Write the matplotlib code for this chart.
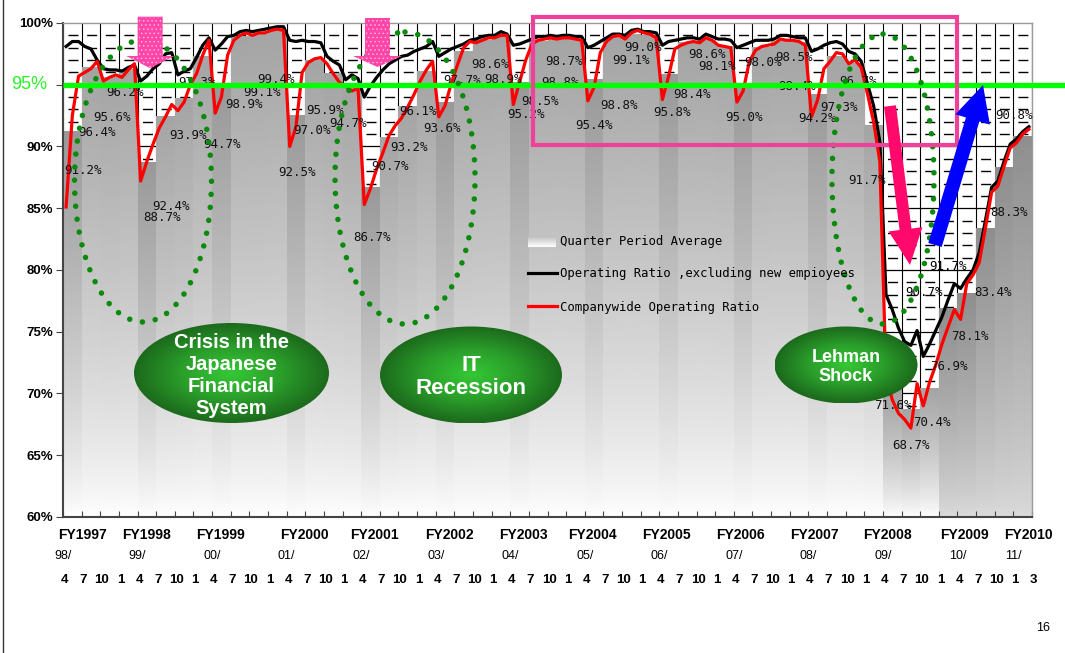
import numpy as np
import matplotlib
matplotlib.use("Agg")
import matplotlib.pyplot as plt
from matplotlib import font_manager
from matplotlib.colors import LinearSegmentedColormap
from matplotlib.patches import Ellipse, Polygon, Rectangle, FancyArrow


def first_font(*names):
    for name in names:
        try:
            font_manager.findfont(font_manager.FontProperties(family=name),
                                  fallback_to_default=False)
            return name
        except ValueError:
            pass
    return "DejaVu Sans"


NARROW = first_font("Liberation Sans Narrow", "Arial Narrow", "Liberation Sans")
SANS = first_font("Liberation Sans", "Arial")
MONO = "DejaVu Sans Mono"
plt.rcParams["hatch.linewidth"] = 0.5

# ---------------- data ----------------
fiscal_years = ["FY1997", "FY1998", "FY1999", "FY2000", "FY2001", "FY2002", "FY2003",
                "FY2004", "FY2005", "FY2006", "FY2007", "FY2008", "FY2009", "FY2010"]
year_marks = ["98/", "99/", "00/", "01/", "02/", "03/", "04/",
              "05/", "06/", "07/", "08/", "09/", "10/", "11/"]
quarter_months = ["4", "7", "10", "1"] * 13 + ["3"]

# quarterly average of the companywide ratio (Apr-Jun 1998 ... Jan-Mar 2011)
quarter_avg = [
    91.2, 96.4, 95.6, 96.2,
    88.7, 92.4, 93.9, 97.3,
    94.7, 98.9, 99.1, 99.4,
    92.5, 97.0, 95.9, 94.7,
    86.7, 90.7, 93.2, 96.1,
    93.6, 97.7, 98.6, 98.9,
    95.2, 98.5, 98.8, 98.7,
    95.4, 98.8, 99.1, 99.0,
    95.8, 98.4, 98.6, 98.1,
    95.0, 98.0, 98.5, 98.4,
    94.2, 97.3, 96.7, 91.7,
    71.6, 68.7, 70.4, 76.9,
    78.1, 83.4, 88.3, 90.8,
]

# monthly companywide operating ratio, Apr 1998 - Mar 2011
ratio_all = [
    85.1, 92.5, 95.7, 96.0, 96.3, 96.9, 95.3, 95.6, 95.8, 95.6, 96.2, 96.7,
    87.2, 88.8, 90.2, 91.5, 92.4, 93.4, 92.9, 93.6, 95.0, 95.9, 97.4, 98.6,
    92.7, 94.0, 97.4, 98.6, 99.0, 99.2, 99.0, 99.2, 99.2, 99.4, 99.5, 99.4,
    90.0, 91.6, 96.0, 96.8, 97.1, 97.2, 96.7, 95.9, 95.2, 94.9, 94.5, 94.7,
    85.3, 86.6, 88.2, 89.5, 90.9, 91.7, 92.3, 93.2, 94.2, 95.3, 96.2, 96.9,
    92.4, 93.3, 95.1, 96.6, 98.0, 98.5, 98.4, 98.6, 98.8, 98.8, 99.0, 99.0,
    93.4, 95.2, 97.0, 98.3, 98.6, 98.7, 98.8, 98.7, 98.8, 98.8, 98.7, 98.6,
    93.7, 94.8, 97.6, 98.5, 98.9, 99.0, 98.7, 99.2, 99.4, 99.2, 99.1, 98.8,
    93.8, 95.7, 97.9, 98.2, 98.4, 98.5, 98.4, 98.8, 98.6, 98.2, 98.1, 98.0,
    93.6, 94.5, 96.9, 97.8, 98.1, 98.2, 98.3, 98.7, 98.6, 98.6, 98.5, 98.2,
    92.4, 93.8, 96.3, 96.9, 97.6, 97.5, 96.7, 97.0, 96.4, 94.3, 92.0, 88.8,
    71.5, 69.5, 68.4, 67.9, 67.2, 70.8, 69.0, 70.9, 72.3, 74.0, 75.4, 76.8,
    76.0, 78.9, 79.6, 80.6, 83.4, 86.3, 86.8, 88.4, 89.9, 90.3, 91.0, 91.4,
]

# monthly operating ratio excluding new employees
ratio_excl_new = [
    98.1, 98.5, 98.5, 98.1, 97.9, 97.0, 96.3, 96.2, 96.2, 96.1, 96.4, 96.6,
    95.3, 95.7, 96.3, 96.7, 97.5, 97.6, 95.8, 96.1, 96.3, 97.2, 98.2, 98.8,
    97.8, 98.3, 98.9, 99.0, 99.3, 99.4, 99.3, 99.4, 99.5, 99.6, 99.7, 99.7,
    98.6, 98.5, 98.6, 98.5, 98.5, 98.4, 97.3, 96.9, 96.6, 95.4, 95.8, 95.5,
    94.0, 94.9, 95.6, 96.2, 96.7, 97.0, 97.3, 97.4, 97.7, 97.9, 98.1, 98.5,
    97.3, 97.6, 97.9, 98.1, 98.3, 98.6, 98.7, 98.9, 99.0, 99.0, 99.3, 99.1,
    98.2, 98.3, 98.5, 98.7, 98.9, 98.9, 99.0, 98.9, 99.0, 99.0, 98.9, 98.9,
    98.0, 98.2, 98.5, 98.8, 99.1, 99.1, 99.0, 99.4, 99.5, 99.3, 99.3, 99.2,
    98.2, 98.5, 98.6, 98.7, 98.8, 98.8, 98.7, 99.1, 98.9, 98.7, 98.7, 98.6,
    98.0, 98.2, 98.4, 98.6, 98.6, 98.6, 98.7, 99.0, 99.0, 98.9, 98.8, 98.8,
    97.7, 97.9, 98.2, 98.4, 98.5, 98.3, 97.7, 97.5, 96.9, 95.1, 93.3, 90.4,
    78.0, 76.8, 75.3, 74.2, 73.9, 75.1, 73.0, 74.0, 75.1, 76.2, 77.6, 78.9,
    78.5, 79.3, 80.0, 81.4, 84.0, 86.7, 87.2, 88.8, 90.2, 90.6, 91.2, 91.6,
]

target = 95.0
crisis_names = ["Crisis in the\nJapanese\nFinancial\nSystem", "IT\nRecession", "Lehman\nShock"]
stray_labels = ["90.7%", "91.7%"]

# ---------------- layout helpers ----------------
# where each quarter label sits relative to the top of its bar (pixels right, pixels down)
label_offsets = [
    (10.7, 39.3), (6.1, 65.5), (2.4, 39.7), (-3.2, 22.1),
    (15.2, 55.4), (5.5, 90.1), (3.9, 36.7), (-5.7, 25.7),
    (0.7, 56.5), (4.0, 68.4), (3.4, 57.9), (-1.2, 48.6),
    (1.1, 56.4), (-2.5, 70.0), (-8.1, 36.4), (-3.7, 35.5),
    (1.6, 50.7), (1.0, 29.1), (1.4, 41.0), (-8.3, 40.8),
    (-2.9, 26.0), (-1.5, 28.6), (7.9, 24.7), (2.2, 43.4),
    (6.6, 32.7), (2.0, 59.5), (3.3, 44.2), (-11.3, 22.9),
    (0.1, 45.2), (6.5, 67.2), (-0.2, 25.9), (-6.8, 12.6),
    (3.6, 38.1), (4.9, 52.2), (1.3, 14.7), (-7.3, 20.5),
    (1.1, 33.2), (1.4, 15.3), (13.8, 15.5), (-1.8, 44.2),
    (-0.5, 23.4), (2.9, 50.7), (3.3, 18.2), (-6.3, 54.5),
    (1.0, 31.3), (0.4, 36.4), (2.8, 34.4), (1.1, 58.7),
    (3.5, 43.5), (7.9, 64.0), (5.3, 45.5), (-8.4, -21.6),
]
fy_pos = [3.2, 13.4, 25.4, 38.9, 50.1, 62.2, 74.1, 85.2, 97.1, 109.0, 120.9, 132.8, 145.2, 155.5]
year_pos = [0, 12, 24, 36, 48, 60, 72, 84, 96, 108, 120, 132, 144, 153]

W, H = 1065, 653
fig = plt.figure(figsize=(W / 100, H / 100), dpi=100)
ax = fig.add_axes([63 / W, 1 - 517 / H, (1032 - 63) / W, (517 - 23) / H])

# grid: quarter columns, 1% dashed rows, solid every 5%
for m in range(0, 157, 3):
    ax.axvline(m, color="black", lw=0.8, zorder=0)
for v in range(61, 100):
    if v % 5 == 0:
        ax.axhline(v, color="black", lw=0.9, zorder=0)
    else:
        ax.axhline(v, color="black", lw=1.0, ls=(9.8, (7.2, 6.21)), zorder=0)

# quarter bars with a vertical grey-to-white fill
grad = np.linspace(0, 1, 200).reshape(-1, 1)
for q, v in enumerate(quarter_avg):
    if q >= 47:
        shade = 0.86 - 0.30 * grad ** 0.75
    else:
        top = 0.60 if q % 4 == 0 else 0.645
        shade = 1 - (1 - top) * grad ** 0.75
    ax.imshow(shade, extent=(3 * q, 3 * q + 3, 60, v), origin="lower", cmap="gray",
              vmin=0, vmax=1, aspect="auto", interpolation="bilinear", zorder=1)

months = np.arange(len(ratio_all)) + 0.5
ax.plot(months, ratio_excl_new, color="black", lw=2.3, zorder=3)
ax.plot(months, ratio_all, color="#ff0000", lw=2.3, zorder=4)

for q, (v, (dx, dy)) in enumerate(zip(quarter_avg, label_offsets)):
    ax.annotate(f"{v:.1f}%", xy=(3 * q + 1.5, v), xytext=(dx, -dy),
                textcoords="offset pixels", ha="center", va="center",
                fontsize=9, family=MONO, color="#111111", zorder=5,
                annotation_clip=False)

# 95% target line running out to the page edge
ax.plot([0, 161.5], [target, target], color="#00ff00", lw=3.8, zorder=6,
        clip_on=False, solid_capstyle="butt")
ax.annotate(f"{target:.0f}%", xy=(0, target), xytext=(-34, 0), textcoords="offset pixels",
            ha="center", va="center", fontsize=13, family=SANS, color="#2bf02b",
            annotation_clip=False)

ax.set_xlim(0, 156)
ax.set_ylim(60, 100)
yt = list(range(60, 101, 5))
ax.set_yticks(yt)
ax.set_yticklabels([f"{t}%" if t != 95 else "" for t in yt], fontsize=9.5,
                   fontweight="bold", family=NARROW)
ax.set_xticks(range(0, 157, 3))
ax.tick_params(axis="y", direction="out", length=5, pad=2, color="#444444")
ax.tick_params(axis="x", direction="in", length=4, labelbottom=False, color="#444444")
for s in ["left", "bottom"]:
    ax.spines[s].set_color("#444444")
    ax.spines[s].set_linewidth(1.5)
for s in ["top", "right"]:
    ax.spines[s].set_color("#999999")
    ax.spines[s].set_linewidth(1.0)

xt = ax.get_xaxis_transform()
for name, p in zip(fiscal_years, fy_pos):
    ax.text(p, -0.0364, name, transform=xt, ha="center", va="center",
            fontsize=10, fontweight="bold", family=SANS)
for name, p in zip(year_marks, year_pos):
    ax.text(p, -0.079, name, transform=xt, ha="center", va="center",
            fontsize=9, family=NARROW)
for k, name in enumerate(quarter_months):
    ax.text(3 * k + 0.25, -0.1275, name, transform=xt, ha="center", va="center",
            fontsize=9.5, fontweight="bold", family=NARROW)

# ---------------- overlay in page pixels ----------------
ov = fig.add_axes([0, 0, 1, 1], zorder=5)
ov.set_axis_off()

ov.plot([3, 3], [0, H], color="#333333", lw=1)
ov.text(1043, 628, "16", fontsize=9, family=SANS, ha="center", va="center")

ov.text(924, 293, stray_labels[0], fontsize=9, family=MONO, ha="center", va="center", zorder=0.5)
ov.text(948, 266, stray_labels[1], fontsize=9, family=MONO, ha="center", va="center", zorder=0.5)

# dotted loops around the three slumps
for cx, cy, w, h in [(143, 181, 137, 282), (405, 178, 140, 292), (883, 179, 102, 290)]:
    ov.add_patch(Ellipse((cx, cy), w, h, fill=False, ec="#0a8a0a", lw=4,
                         ls=(0, (0.001, 2.35)), capstyle="round", zorder=1))


def block_arrow(cx, top, neck, tip, shaft_w, head_w):
    return [(cx - shaft_w / 2, top), (cx + shaft_w / 2, top), (cx + shaft_w / 2, neck),
            (cx + head_w / 2, neck), (cx, tip), (cx - head_w / 2, neck),
            (cx - shaft_w / 2, neck)]


for args in [(150.2, 16.7, 56, 68.3, 25, 48), (377.5, 18, 56, 67, 25, 49)]:
    verts = block_arrow(*args)
    ov.add_patch(Polygon(verts, closed=True, fc="#ff45a8", ec="none", zorder=2))
    ov.add_patch(Polygon(verts, closed=True, fc="none", ec="#ffc0e0", lw=0, hatch="....",
                         zorder=2.1))

ov.add_patch(Rectangle((533, 17), 424, 128, fill=False, ec="#f0409a", lw=3, zorder=2))

ov.add_patch(FancyArrow(890, 106, 20, 159, width=12, head_width=34, head_length=36,
                        length_includes_head=True, color="#ff0a6c", lw=0, zorder=3))
ov.add_patch(FancyArrow(935, 245, 48, -160, width=14, head_width=36, head_length=36,
                        length_includes_head=True, color="#0000ff", lw=0, zorder=3))

# green captions
blob_cmap = LinearSegmentedColormap.from_list("blob", ["#35c835", "#2ba02b", "#1c6a1c"])
yy, xx = np.mgrid[-1:1:120j, -1:1:200j]
radius = np.clip(np.hypot(xx, yy), 0, 1)
for (cx, cy, w, h, fs, lsp), name in zip(
        [(231.5, 373, 195, 100, 14.5, 1.2), (471, 375, 182, 97, 16, 1.1),
         (846, 365, 143, 77, 13, 1.1)], crisis_names):
    e = Ellipse((cx, cy), w, h, fc="none", ec="none", zorder=4)
    ov.add_patch(e)
    img = ov.imshow(radius, cmap=blob_cmap, vmin=0, vmax=1, aspect="auto",
                    extent=(cx - w / 2, cx + w / 2, cy + h / 2, cy - h / 2),
                    interpolation="bilinear", zorder=4)
    img.set_clip_path(e)
    ov.text(cx, cy + 2, name, color="white", fontsize=fs, fontweight="bold", family=NARROW,
            ha="center", va="center", linespacing=lsp, zorder=4.5)

# legend
swatch = np.linspace(0.74, 1.0, 50).reshape(-1, 1)
ov.imshow(swatch, cmap="gray", vmin=0, vmax=1, aspect="auto", extent=(528, 556, 247, 236),
          origin="upper", zorder=4)
ov.plot([528, 557], [273, 273], color="black", lw=2.3, zorder=4)
ov.plot([528, 557], [306, 306], color="#ff0000", lw=2.3, zorder=4)
for y, name in [(242, "Quarter Period Average"),
                (273, "Operating Ratio ,excluding new empioyees"),
                (307, "Companywide Operating Ratio")]:
    ov.text(560, y, name, fontsize=8.8, family=MONO, ha="left", va="center", zorder=4)

ov.set_xlim(0, W)
ov.set_ylim(H, 0)

fig.savefig("out.png", dpi=100)
